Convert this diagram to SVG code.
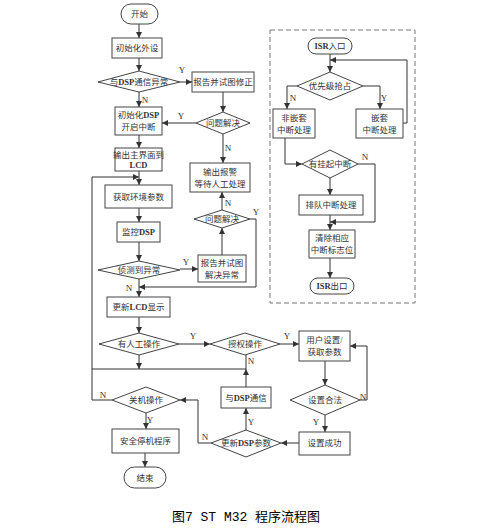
<svg xmlns="http://www.w3.org/2000/svg" width="486" height="528" viewBox="0 0 486 528">
<style>
.b{fill:#fff;stroke:#444;stroke-width:1}
.c{fill:none;stroke:#333;stroke-width:1}
.a{marker-end:url(#ar)}
.t{font-family:"Liberation Serif","Noto Sans CJK SC",serif;font-size:8.5px;fill:#333;text-anchor:middle}
.l{font-family:"Liberation Serif","Noto Sans CJK SC",serif;font-size:9px;fill:#333;text-anchor:middle}
.k{font-weight:bold}
.cap{font-family:"Liberation Mono","Noto Sans CJK SC",monospace;font-size:13px;fill:#000;text-anchor:middle}
</style>
<defs>
<marker id="ar" markerWidth="6" markerHeight="6" refX="6" refY="3" orient="auto" markerUnits="userSpaceOnUse">
<path d="M0,0 L6,3 L0,6 z" fill="#333"/>
</marker>
</defs>
<rect width="486" height="528" fill="#fff"/>
<rect x="270" y="30" width="145" height="273" fill="none" stroke="#777" stroke-width="1" stroke-dasharray="5,3"/>

<g id="connectors">
<path class="c a" d="M139,24 V38"/>
<path class="c a" d="M139,58 V71"/>
<path class="c a" d="M180,82 H192"/>
<path class="c a" d="M139,92 V107"/>
<path class="c a" d="M223,92 V112"/>
<path class="c a" d="M196,123 H162"/>
<path class="c a" d="M223,134 V163"/>
<path class="c a" d="M139,135 V148"/>
<path class="c a" d="M139,171 V185"/>
<path class="c a" d="M92,177 H139"/>
<path class="c a" d="M139,208 V222"/>
<path class="c a" d="M139,242 V261"/>
<path class="c a" d="M180,269 H198"/>
<path class="c a" d="M139,279 V297"/>
<path class="c a" d="M222,255 V228"/>
<path class="c a" d="M222,210 V192"/>
<path class="c a" d="M250,219 H256 V287 H139"/>
<path class="c a" d="M139,317 V333"/>
<path class="c a" d="M179,344 H210"/>
<path class="c a" d="M280,344 H299"/>
<path class="c a" d="M139,355 V369"/>
<path class="c" d="M246,355 V369"/>
<path class="c" d="M92,369 H246"/>
<path class="c a" d="M246,387 V369"/>
<path class="c" d="M92,177 V400 H112"/>
<path class="c a" d="M146,413 V429"/>
<path class="c a" d="M145,453 V467"/>
<path class="c a" d="M211,443 H198 V400 H180"/>
<path class="c a" d="M246,430 V408"/>
<path class="c a" d="M299,443 H281"/>
<path class="c a" d="M325,361 V385"/>
<path class="c a" d="M325,415 V432"/>
<path class="c a" d="M360,400 H367 V346 H350"/>
<path class="c a" d="M330,54 V72"/>
<path class="c a" d="M403,123 H407 V60 H330"/>
<path class="c a" d="M297,86 H287 V109"/>
<path class="c a" d="M363,86 H380 V109"/>
<path class="c a" d="M285,138 V164 H302"/>
<path class="c a" d="M358,164 H375 V222 H330"/>
<path class="c a" d="M330,178 V195"/>
<path class="c a" d="M330,215 V230"/>
<path class="c a" d="M330,258 V278"/>
</g>

<g id="labels">
<text class="l" x="182" y="73">Y</text>
<text class="l" x="145" y="103">N</text>
<text class="l" x="181" y="119">Y</text>
<text class="l" x="228" y="151">N</text>
<text class="l" x="186" y="265">Y</text>
<text class="l" x="129" y="291">N</text>
<text class="l" x="228" y="206">N</text>
<text class="l" x="256" y="215">Y</text>
<text class="l" x="193" y="339">Y</text>
<text class="l" x="287" y="339">Y</text>
<text class="l" x="251" y="364">N</text>
<text class="l" x="103" y="398">N</text>
<text class="l" x="150" y="423">Y</text>
<text class="l" x="205" y="440">N</text>
<text class="l" x="251" y="425">Y</text>
<text class="l" x="316" y="425">Y</text>
<text class="l" x="363" y="400">N</text>
<text class="l" x="293" y="101">N</text>
<text class="l" x="384" y="101">Y</text>
<text class="l" x="365" y="160">N</text>
</g>

<g id="start"><rect class="b" x="121" y="4" width="37" height="20" rx="10"/><text class="t" x="139.5" y="17">开始</text></g>
<g id="init-periph"><rect class="b" x="112" y="38" width="50" height="20"/><text class="t" x="137" y="51">初始化外设</text></g>
<g id="dsp-comm-err"><polygon class="b" points="139,71 180,82 139,92 98,82"/><text class="t" x="139" y="85">与<tspan class="k">DSP</tspan>通信异常</text></g>
<g id="report-fix"><rect class="b" x="192" y="72" width="62" height="20"/><text class="t" x="223" y="85">报告并试图修正</text></g>
<g id="solved1"><polygon class="b" points="223,112 250,123 223,134 196,123"/><text class="t" x="223" y="126">问题解决</text></g>
<g id="init-dsp"><rect class="b" x="115" y="107" width="47" height="28"/><text class="t" x="138.5" y="118">初始化<tspan class="k">DSP</tspan></text><text class="t" x="138.5" y="130">开启中断</text></g>
<g id="alarm"><rect class="b" x="190" y="163" width="60" height="29"/><text class="t" x="220" y="175">输出报警</text><text class="t" x="220" y="187">等待人工处理</text></g>
<g id="main-lcd"><rect class="b" x="115" y="148" width="47" height="23"/><text class="t" x="138.5" y="157.5">输出主界面到</text><text class="t k" x="138.5" y="168">LCD</text></g>
<g id="get-env"><rect class="b" x="105" y="185" width="67" height="23"/><text class="t" x="138.5" y="199.5">获取环境参数</text></g>
<g id="monitor"><rect class="b" x="117" y="222" width="43" height="20"/><text class="t" x="138.5" y="235">监控<tspan class="k">DSP</tspan></text></g>
<g id="detect"><polygon class="b" points="139,261 180,270 139,279 98,270"/><text class="t" x="139" y="273">侦测到异常</text></g>
<g id="solved2"><polygon class="b" points="222,210 250,219 222,228 194,219"/><text class="t" x="222" y="222">问题解决</text></g>
<g id="report-solve"><rect class="b" x="198" y="255" width="48" height="27"/><text class="t" x="222" y="266">报告并试图</text><text class="t" x="222" y="278">解决异常</text></g>
<g id="update-lcd"><rect class="b" x="107" y="297" width="63" height="20"/><text class="t" x="138.5" y="310">更新<tspan class="k">LCD</tspan>显示</text></g>
<g id="manual"><polygon class="b" points="139,333 179,344 139,355 99,344"/><text class="t" x="139" y="347">有人工操作</text></g>
<g id="auth"><polygon class="b" points="245,333 280,344 245,355 210,344"/><text class="t" x="245" y="347">授权操作</text></g>
<g id="user-set"><rect class="b" x="299" y="331" width="51" height="30"/><text class="t" x="324.5" y="343">用户设置/</text><text class="t" x="324.5" y="355">获取参数</text></g>
<g id="legal"><polygon class="b" points="325,385 360,400 325,415 290,400"/><text class="t" x="325" y="403">设置合法</text></g>
<g id="set-ok"><rect class="b" x="299" y="432" width="51" height="23"/><text class="t" x="324.5" y="446">设置成功</text></g>
<g id="comm-dsp"><rect class="b" x="221" y="387" width="50" height="21"/><text class="t" x="246" y="400.5">与<tspan class="k">DSP</tspan>通信</text></g>
<g id="update-dsp"><polygon class="b" points="246,430 281,443 246,457 211,443"/><text class="t" x="246" y="446">更新<tspan class="k">DSP</tspan>参数</text></g>
<g id="shutdown-q"><polygon class="b" points="146,387 180,400 146,413 112,400"/><text class="t" x="146" y="403">关机操作</text></g>
<g id="safe-stop"><rect class="b" x="112" y="429" width="67" height="24"/><text class="t" x="145.5" y="444">安全停机程序</text></g>
<g id="end"><rect class="b" x="124" y="467" width="42" height="21" rx="10.5"/><text class="t" x="145" y="480.5">结束</text></g>

<g id="isr-in"><rect class="b" x="308" y="38" width="44" height="16" rx="8"/><text class="t" x="330" y="49"><tspan class="k">ISR</tspan>入口</text></g>
<g id="prio"><polygon class="b" points="330,72 363,86 330,100 297,86"/><text class="t" x="330" y="89">优先级抢占</text></g>
<g id="non-nest"><rect class="b" x="273" y="109" width="42" height="29"/><text class="t" x="294" y="121">非嵌套</text><text class="t" x="294" y="133">中断处理</text></g>
<g id="nest"><rect class="b" x="356" y="109" width="47" height="29"/><text class="t" x="379.5" y="121">嵌套</text><text class="t" x="379.5" y="133">中断处理</text></g>
<g id="pending"><polygon class="b" points="330,150 358,164 330,178 302,164"/><text class="t" x="330" y="167">有挂起中断</text></g>
<g id="queue"><rect class="b" x="299" y="195" width="64" height="20"/><text class="t" x="331" y="208">排队中断处理</text></g>
<g id="clear"><rect class="b" x="309" y="230" width="46" height="28"/><text class="t" x="332" y="241">清除相应</text><text class="t" x="332" y="253">中断标志位</text></g>
<g id="isr-out"><rect class="b" x="310" y="278" width="44" height="16" rx="8"/><text class="t" x="332" y="289"><tspan class="k">ISR</tspan>出口</text></g>

<text class="cap" x="246" y="521">图7 ST M32 程序流程图</text>
</svg>
